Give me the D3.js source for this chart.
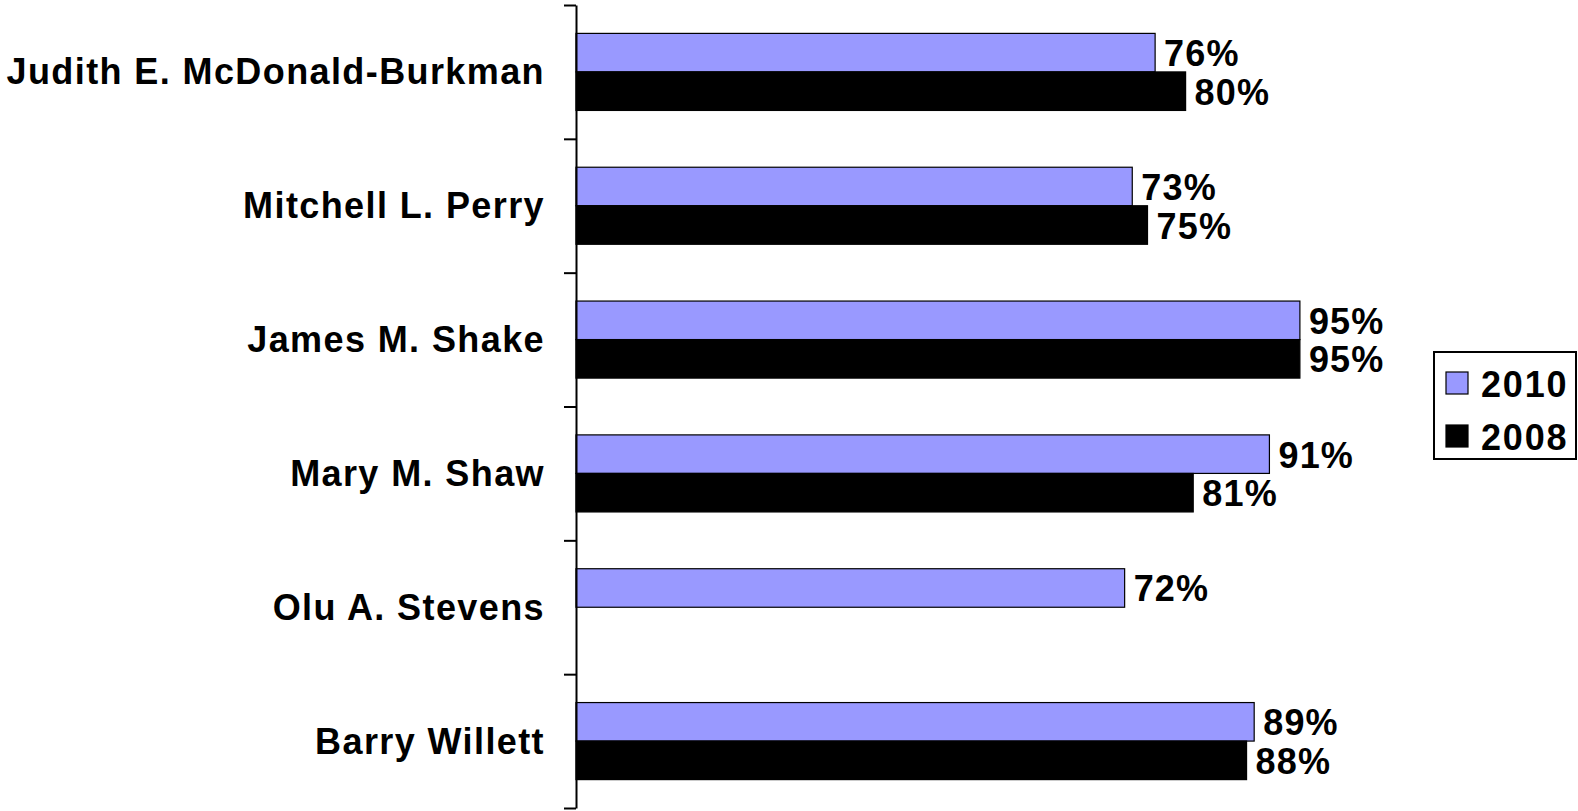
<!DOCTYPE html>
<html>
<head>
<meta charset="utf-8">
<script src="https://cdn.jsdelivr.net/npm/d3@7"></script>
<style>
  html, body { margin: 0; padding: 0; background: #fff; }
  svg { display: block; }
  text { font-family: "Liberation Sans", Arial, sans-serif; font-weight: bold; fill: #000; }
</style>
</head>
<body>
<script>
const categories = ["Judith E. McDonald-Burkman", "Mitchell L. Perry", "James M. Shake", "Mary M. Shaw", "Olu A. Stevens", "Barry Willett"];
const seriesNames = ["2010", "2008"];
const values2010 = [0.76, 0.73, 0.95, 0.91, 0.72, 0.89];
const values2008 = [0.80, 0.75, 0.95, 0.81, null, 0.88];
const seriesColors = ["#9999FF", "#000000"];

const W = 1578, H = 811;
const svg = d3.select("body").append("svg").attr("width", W).attr("height", H);

const x = d3.scaleLinear().domain([0, 1]).range([576, 1338]);
const y = d3.scaleBand().domain(categories).range([5, 808]).padding(0);
const ySub = d3.scaleBand().domain(seriesNames).range([0, y.bandwidth()]).paddingInner(0).paddingOuter(0.737);

const data = categories.map((c, i) => ({
  cat: c,
  vals: [{ s: "2010", v: values2010[i] }, { s: "2008", v: values2008[i] }]
}));

const g = svg.append("g");
const groups = g.selectAll("g.cat").data(data).join("g")
  .attr("transform", d => `translate(0,${y(d.cat)})`);

groups.selectAll("rect").data(d => d.vals.filter(v => v.v != null)).join("rect")
  .attr("x", x(0))
  .attr("y", d => ySub(d.s))
  .attr("width", d => x(d.v) - x(0))
  .attr("height", ySub.bandwidth())
  .attr("fill", d => seriesColors[seriesNames.indexOf(d.s)])
  .attr("stroke", "#000")
  .attr("stroke-width", 1.2);

groups.selectAll("text.val").data(d => d.vals.filter(v => v.v != null)).join("text")
  .attr("class", "val")
  .attr("x", d => x(d.v) + 9)
  .attr("y", d => ySub(d.s) + ySub.bandwidth() / 2 + 1)
  .attr("dominant-baseline", "central")
  .style("font-size", "36px")
  .style("letter-spacing", "1.2px")
  .text(d => Math.round(d.v * 100) + "%");

// axis with ticks at band boundaries
const yIdx = d3.scaleLinear().domain([0, categories.length]).range([5, 808]);
const axis = d3.axisLeft(yIdx).tickValues(d3.range(categories.length + 1)).tickSize(12).tickFormat("").tickSizeOuter(0);
const ax = svg.append("g").attr("transform", `translate(${x(0)},0)`).call(axis);
ax.select(".domain").attr("stroke", "#000").attr("stroke-width", 2);
ax.selectAll(".tick line").attr("stroke", "#000").attr("stroke-width", 2);

// category labels
svg.append("g").selectAll("text").data(categories).join("text")
  .attr("x", 545)
  .attr("y", d => y(d) + y.bandwidth() / 2)
  .attr("text-anchor", "end")
  .attr("dominant-baseline", "central")
  .style("font-size", "36px")
  .style("letter-spacing", "1.4px")
  .text(d => d);

// legend
const leg = svg.append("g");
leg.append("rect").attr("x", 1434).attr("y", 352).attr("width", 142).attr("height", 107)
  .attr("fill", "#fff").attr("stroke", "#000").attr("stroke-width", 2);
const li = leg.selectAll("g.item").data(seriesNames).join("g").attr("class", "item")
  .attr("transform", (d, i) => `translate(1446,${372 + i * 53})`);
li.append("rect").attr("width", 22).attr("height", 22)
  .attr("fill", (d, i) => seriesColors[i]).attr("stroke", "#000").attr("stroke-width", 1.2);
li.append("text").attr("x", 35).attr("y", 12)
  .attr("dominant-baseline", "central")
  .style("font-size", "36px")
  .style("letter-spacing", "1.8px")
  .text(d => d);
</script>
</body>
</html>
